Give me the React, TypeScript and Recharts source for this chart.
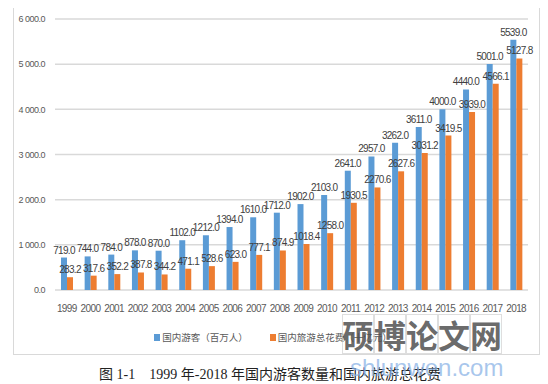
import { BarChart, Bar, XAxis, YAxis, CartesianGrid, Legend, LabelList } from 'recharts';

const years = ['1999', '2000', '2001', '2002', '2003', '2004', '2005', '2006', '2007', '2008', '2009', '2010', '2011', '2012', '2013', '2014', '2015', '2016', '2017', '2018'];
const visitors = [719, 744, 784, 878, 870, 1102, 1212, 1394, 1610, 1712, 1902, 2103, 2641, 2957, 3262, 3611, 4000, 4440, 5001, 5539];
const spending = [283.2, 317.6, 352.2, 387.8, 344.2, 471.1, 528.6, 623.0, 777.1, 874.9, 1018.4, 1258.0, 1930.5, 2270.6, 2627.6, 3031.2, 3419.5, 3939.0, 4566.1, 5127.8];
const yTicks = [0, 1000, 2000, 3000, 4000, 5000, 6000];
const seriesNames = ['国内游客（百万人）', '国内旅游总花费（十亿元）'];

const chartData = years.map((year, i) => ({
  year,
  visitors: visitors[i],
  spending: spending[i],
}));

const BLUE = '#5B9BD5';
const ORANGE = '#ED7D31';
const FONT = '"Liberation Sans", Arial, "Noto Sans CJK SC", sans-serif';
const CJK = '"Noto Sans CJK SC", sans-serif';

const fmtTick = (v: number) => {
  const [int, dec] = v.toFixed(1).split('.');
  const grouped = int.length > 3 ? int.slice(0, int.length - 3) + '\u00A0' + int.slice(-3) : int;
  return `${grouped}.${dec}`;
};

const LegendBox = () => (
  <div style={{ display: 'flex', justifyContent: 'center', gap: 22, fontSize: 9.5, color: '#595959', fontFamily: CJK, paddingLeft: 4 }}>
    {seriesNames.map((name, i) => (
      <span key={name} style={{ display: 'flex', alignItems: 'center' }}>
        <span style={{ width: 6, height: 7, background: i === 0 ? BLUE : ORANGE, marginRight: 2, display: 'inline-block' }} />
        {name}
      </span>
    ))}
  </div>
);

const labelStyle = { fontSize: 10, fill: '#404040', fontFamily: FONT, letterSpacing: -0.7 };

export default function App() {
  return (
    <div style={{ position: 'absolute', left: 0, top: 0, width: 548, height: 384, background: '#fff', overflow: 'hidden' }}>
      <div
        style={{
          position: 'absolute',
          left: 13,
          top: 8,
          width: 527,
          height: 347,
          borderLeft: '1px solid #D9D9D9',
          borderRight: '1px solid #D9D9D9',
          borderBottom: '1px solid #D9D9D9',
          boxSizing: 'border-box',
        }}
      >
        <BarChart
          width={525}
          height={346}
          data={chartData}
          margin={{ top: 11, right: 11, bottom: 4, left: 0 }}
          barGap={0}
          barSize={6}
        >
          <CartesianGrid vertical={false} stroke="#D9D9D9" strokeWidth={1.5} />
          <XAxis
            dataKey="year"
            axisLine={false}
            tickLine={false}
            tickSize={0}
            tickMargin={15}
            height={40}
            interval={0}
            tick={{ fontSize: 10, fill: '#595959', fontFamily: FONT, letterSpacing: -0.6 }}
          />
          <YAxis
            domain={[0, 6000]}
            ticks={yTicks}
            width={41}
            axisLine={false}
            tickLine={false}
            tickSize={0}
            tickMargin={10}
            tickFormatter={fmtTick}
            tick={{ fontSize: 9, fill: '#595959', fontFamily: FONT, letterSpacing: -0.5 }}
          />
          <Legend verticalAlign="bottom" height={20} content={() => <LegendBox />} />
          <Bar dataKey="visitors" name={seriesNames[0]} fill={BLUE} isAnimationActive={false}>
            <LabelList
              dataKey="visitors"
              position="top"
              offset={4}
              formatter={(v: number) => v.toFixed(1)}
              style={labelStyle}
            />
          </Bar>
          <Bar dataKey="spending" name={seriesNames[1]} fill={ORANGE} isAnimationActive={false}>
            <LabelList
              dataKey="spending"
              position="top"
              offset={4}
              formatter={(v: number) => v.toFixed(1)}
              style={labelStyle}
            />
          </Bar>
        </BarChart>
      </div>
      <div
        style={{
          position: 'absolute',
          left: 0,
          width: 540,
          top: 363,
          textAlign: 'center',
          fontSize: 14,
          color: '#222',
          fontFamily: '"Liberation Serif", "Noto Sans CJK SC", serif',
          whiteSpace: 'pre',
        }}
      >
        {'图 1-1    1999 年-2018 年国内游客数量和国内旅游总花费'}
      </div>
      {/* watermark */}
      <div style={{ position: 'absolute', left: 342, top: 314, display: 'flex' }}>
        {['硕', '博', '论', '文', '网'].map((ch) => (
          <span
            key={ch}
            style={{
              width: 32,
              height: 40,
              border: '1px solid rgba(200,200,200,0.6)',
              boxSizing: 'border-box',
              display: 'flex',
              alignItems: 'center',
              justifyContent: 'center',
              fontSize: 32,
              color: 'rgba(80,80,80,0.85)',
              fontFamily: CJK,
              fontWeight: 700,
            }}
          >
            {ch}
          </span>
        ))}
      </div>
      <div
        style={{
          position: 'absolute',
          left: 350,
          top: 354,
          fontSize: 24,
          color: 'rgba(140,180,230,0.75)',
          fontFamily: '"Liberation Sans", sans-serif',
        }}
      >
        shlunwen.com
      </div>
    </div>
  );
}
